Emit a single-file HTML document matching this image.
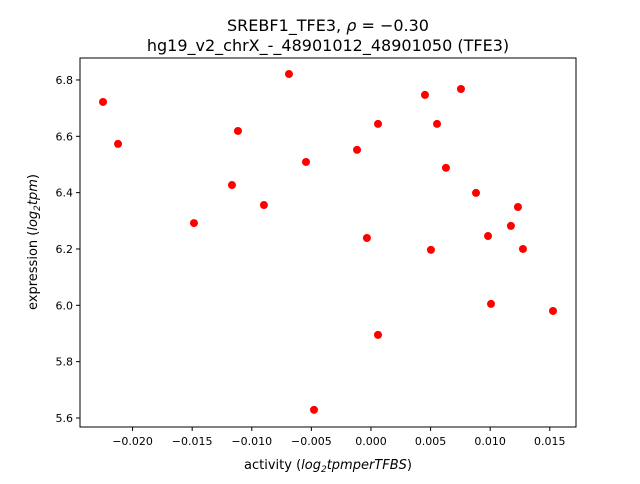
<!DOCTYPE html>
<html><head><meta charset="utf-8"><style>
body{margin:0;background:#fff;font-family:"DejaVu Sans","Liberation Sans",sans-serif}
svg text{font-family:"DejaVu Sans","Liberation Sans",sans-serif}
</style></head><body>
<svg id="chart" width="640" height="480" xmlns="http://www.w3.org/2000/svg">
<rect width="640" height="480" fill="#fff"/>
<text x="328" y="31" font-size="16" text-anchor="middle">SREBF1_TFE3, <tspan font-style="italic">ρ</tspan> = −0.30</text>
<text x="328" y="51" font-size="16" text-anchor="middle">hg19_v2_chrX_-_48901012_48901050 (TFE3)</text>
<g id="plot"></g>
<rect x="80" y="58" width="496" height="369" fill="none" stroke="#000" stroke-width="1"/>
<text x="328" y="469" font-size="13" text-anchor="middle">activity (<tspan font-style="italic">log</tspan><tspan font-size="9" dy="3" font-style="italic">2</tspan><tspan dy="-3" font-style="italic">tpmperTFBS</tspan>)</text>
<text transform="translate(37,242) rotate(-90)" font-size="13" text-anchor="middle">expression (<tspan font-style="italic">log</tspan><tspan font-size="9" dy="3" font-style="italic">2</tspan><tspan dy="-3" font-style="italic">tpm</tspan>)</text>
</svg>
<script>
const xTicks=[-0.020,-0.015,-0.010,-0.005,0.000,0.005,0.010,0.015];
const xTickLabels=["−0.020","−0.015","−0.010","−0.005","0.000","0.005","0.010","0.015"];
const yTicks=[5.6,5.8,6.0,6.2,6.4,6.6,6.8];
const yTickLabels=["5.6","5.8","6.0","6.2","6.4","6.6","6.8"];
const activity=[-0.02248,-0.02122,-0.01485,-0.01166,-0.01116,-0.00898,-0.00688,-0.00545,-0.00478,-0.00117,-0.00034,0.00059,0.00059,0.00453,0.00503,0.00554,0.00629,0.00755,0.00881,0.00982,0.01007,0.01174,0.01233,0.01275,0.01527];
const expression=[6.722,6.573,6.292,6.427,6.619,6.356,6.821,6.509,5.629,6.552,6.239,6.644,5.895,6.747,6.197,6.644,6.488,6.768,6.399,6.246,6.005,6.282,6.349,6.200,5.980];
const X0=80,X1=576,Y0=427,Y1=58,xmin=-0.02441,xmax=0.01720,ymin=5.568,ymax=6.878;
function sx(v){return X0+(v-xmin)/(xmax-xmin)*(X1-X0);}
function sy(v){return Y0-(v-ymin)/(ymax-ymin)*(Y0-Y1);}
const NS="http://www.w3.org/2000/svg";
const g=document.getElementById('plot');
function mk(t,a){const e=document.createElementNS(NS,t);for(const k in a)e.setAttribute(k,a[k]);g.appendChild(e);return e;}
xTicks.forEach((v,i)=>{
 const l=mk('line',{x1:sx(v),x2:sx(v),y1:Y0,y2:Y0+4,stroke:'#000'});
 
 
 const t=mk('text',{x:sx(v),y:Y0+18,'font-size':11,'text-anchor':'middle'});
 t.textContent=xTickLabels[i];
 
 
});
yTicks.forEach((v,i)=>{
 const l=mk('line',{x1:X0-4,x2:X0,y1:sy(v),y2:sy(v),stroke:'#000'});
 
 
 const t=mk('text',{x:X0-7,y:sy(v)+4,'font-size':11,'text-anchor':'end'});
 t.textContent=yTickLabels[i];
 
 
});
activity.forEach((v,i)=>{
 const c=mk('circle',{cx:sx(v),cy:sy(expression[i]),r:4,fill:'#ff0000'});
 
 
});
</script>
</body></html>
